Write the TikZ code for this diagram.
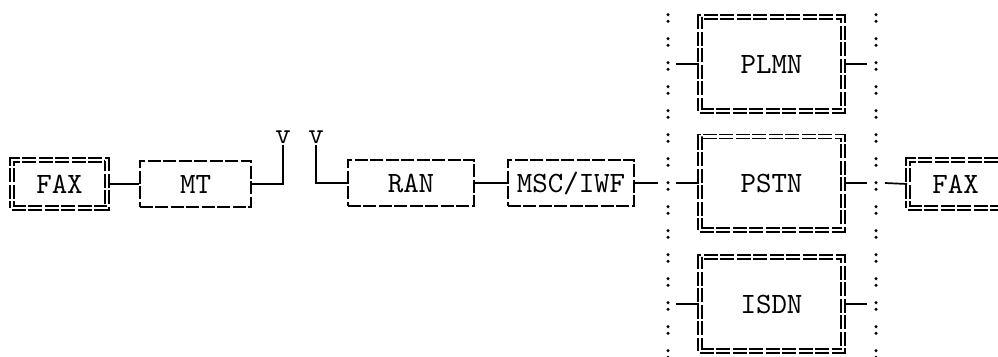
\documentclass[tikz,border=0pt]{standalone}
\usepackage{fontspec}
\usetikzlibrary{positioning,calc}
\newfontfamily\asciifont{lmmono10-regular.otf}
\newcommand\boxfont{\asciifont\fontsize{29.5}{33}\selectfont}

\begin{document}
\begin{tikzpicture}[x=1pt,y=-1pt,
		font=\boxfont,
		sbox/.style={draw, line width=1.7pt, dash pattern=on 13pt off 2.5pt, inner sep=0pt, minimum height=46.3pt},
		dbox/.style={draw, double, line width=1.7pt, double distance=2.3pt, dash pattern=on 14pt off 2.5pt, inner sep=0pt},
		link/.style={line width=1.7pt},
		vlabel/.style={inner sep=1pt, anchor=south}]
		\useasboundingbox (0,0) rectangle (998,356);
		\node [dbox, minimum width=95.3pt, minimum height=48.3pt] (faxA) at (59.5,184) {FAX};
		\node [sbox, minimum width=111.3pt] (mt) at (195.5,184) {MT};
		\node [vlabel] (vA) at (283,145) {v};
		\node [vlabel] (vB) at (316,145) {v};
		\node [sbox, minimum width=126.3pt] (ran) at (411,183) {RAN};
		\node [sbox, minimum width=126.3pt] (msc) at (571,183) {MSC/IWF};
		\node [dbox, minimum width=143.3pt, minimum height=94.3pt] (plmn) at (771.5,64) {PLMN};
		\node [dbox, minimum width=143.3pt, minimum height=93.3pt] (pstn) at (771.5,183) {PSTN};
		\node [dbox, minimum width=143.3pt, minimum height=94.3pt] (isdn) at (771.5,304) {ISDN};
		\node [dbox, minimum width=95.3pt, minimum height=48.3pt] (faxB) at (955.5,184) {FAX};
		\coordinate (busL) at (668,183);
		\coordinate (busR) at (876,183);
		\foreach \x in {668,876}
			\foreach \y in {18,42,...,354}
			{
				\fill (\x,\y-3.3) circle [radius=1.7pt];
				\fill (\x,\y+3.3) circle [radius=1.7pt];
			}
		\draw [link] (faxA.east) -- (mt.west);
		\draw [link] (mt.east) -| (vA.south);
		\draw [link] (vB.south) |- (ran.west);
		\draw [link] (ran.east) -- (msc.west);
		\draw [link] (msc.east) -- ($(busL)+(-10,0)$);
		\foreach \n in {plmn,pstn,isdn}
		{
			\draw [link] ($(busL |- \n.west)+(8,0)$) -- (\n.west);
			\draw [link] (\n.east) -- ($(busR |- \n.east)+(-9,0)$);
		}
		\draw [link] ($(busR)+(9,0)$) -- (faxB.west);
\end{tikzpicture}
\end{document}
